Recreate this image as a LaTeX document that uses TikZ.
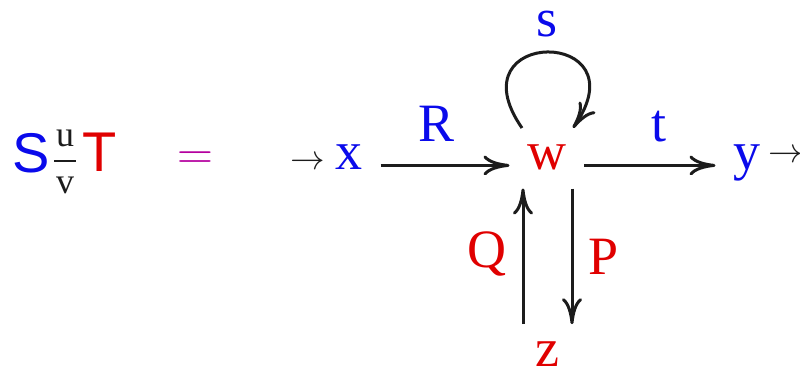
\documentclass[tikz,border=0pt]{standalone}
\usepackage{amsmath}
\usepackage{fontspec}
\setmainfont{Liberation Serif}
\setsansfont{Liberation Sans}
\usetikzlibrary{arrows.meta,calc}
\definecolor{Ink}{HTML}{1C1C1C}
\definecolor{Blue}{HTML}{0A0AEB}
\definecolor{Red}{HTML}{E00000}
\definecolor{Magenta}{HTML}{B4009E}

\begin{document}
\begin{tikzpicture}[x=0.5pt,y=-0.5pt,
    every node/.style={inner sep=0pt,outer sep=0pt,anchor=base},
    obj/.style={font=\fontsize{27}{30}\selectfont},
    lbl/.style={font=\fontsize{27}{30}\selectfont},
    big/.style={font=\fontsize{28}{32}\selectfont\sffamily},
    tick/.style={font=\fontsize{18}{20}\selectfont,text=Ink},
    arr/.style={-{Computer Modern Rightarrow[length=13pt,width=10pt]},line width=1.5pt,Ink},
    gap/.style={shorten <=9pt,shorten >=9pt}
  ]
    \useasboundingbox (0,0) rectangle (800,369);
    % left-hand side
    \node[big,text=Blue] (lS) at (31,173) {S};
    \node[font=\fontsize{18}{22}\selectfont,text=Ink,anchor=center] (frac) at (65,162)
      {$\genfrac{}{}{1pt}{0}{\hspace{1pt}\text{u}\hspace{1pt}}{\text{v}}$};
    \node[big,text=Red] (lT) at (100,172) {T};
    \node[font=\fontsize{24}{28}\selectfont,text=Magenta] (eq) at (195,170) {$=$};
    % the graph
    \node[tick] (xin) at (308,170) {$\to$};
    \node[obj,text=Blue] (x) at (349,170) {x};
    \node[obj,text=Red] (w) at (547,170) {w};
    \node[obj,text=Blue] (y) at (747,170) {y};
    \node[tick] (yout) at (786,163) {$\to$};
    \node[obj,text=Red] (z) at (547,367) {z};
    \draw[arr,gap] (x.mid east) -- (w.mid west);
    \draw[arr,gap] (w.mid east) -- (y.mid west);
    \draw[arr,gap] ([xshift=-12pt]z.north) -- ([xshift=-12pt]w.south);
    \draw[arr,gap] ([xshift=12.5pt]w.south) -- ([xshift=12.5pt]z.north);
    \draw[arr] ($(w.base)+(-25,-42)$) .. controls +(-70,-101) and +(70,-101) .. ($(w.base)+(26,-42)$);
    % labels
    \node[lbl,text=Blue] (lR) at (437,142) {R};
    \node[lbl,text=Blue] (lt) at (659,142) {t};
    \node[lbl,text=Blue] (ls) at (547,37) {s};
    \node[lbl,text=Red] (lQ) at (487,268) {Q};
    \node[lbl,text=Red] (lP) at (604,275) {P};
  \end{tikzpicture}
\end{document}
